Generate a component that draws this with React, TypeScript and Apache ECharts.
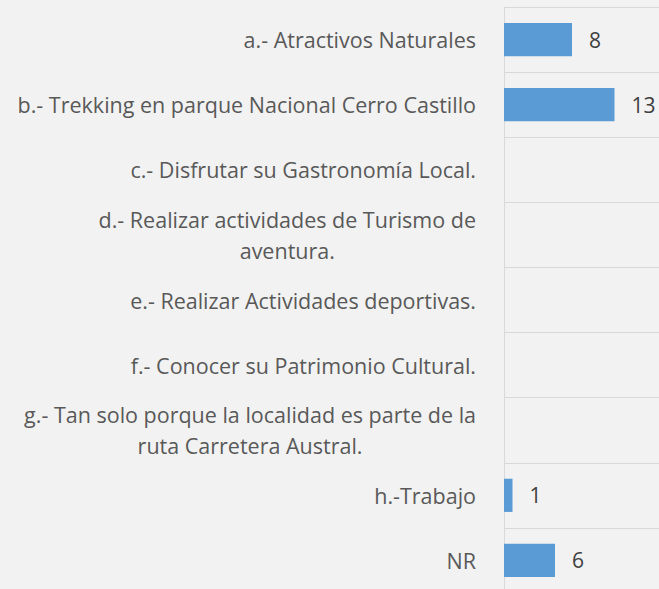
import React, { useEffect, useRef } from "react";
import * as echarts from "echarts";

const categories: string[] = [
  "a.- Atractivos Naturales",
  "b.- Trekking en parque Nacional Cerro Castillo",
  "c.- Disfrutar su Gastronomía Local.",
  "d.- Realizar actividades de Turismo de aventura.",
  "e.- Realizar Actividades deportivas.",
  "f.- Conocer su Patrimonio Cultural.",
  "g.- Tan solo porque la localidad es parte de la ruta Carretera Austral.",
  "h.-Trabajo",
  "NR",
];
const values: number[] = [8, 13, 0, 0, 0, 0, 0, 1, 6];

function wrap(text: string, maxChars: number): string[] {
  const words = text.split(" ");
  const lines: string[] = [];
  let cur = "";
  for (const w of words) {
    const next = cur ? cur + " " + w : w;
    if (next.length > maxChars && cur) {
      lines.push(cur);
      cur = w;
    } else {
      cur = next;
    }
  }
  if (cur) lines.push(cur);
  return lines;
}

export default function App() {
  const ref = useRef<HTMLDivElement>(null);
  useEffect(() => {
    if (!ref.current) return;
    const chart = echarts.init(ref.current, null, { renderer: "svg" });
    const font = "'Open Sans', sans-serif";
    chart.setOption({
      animation: false,
      backgroundColor: "#f2f2f2",
      grid: { left: 504, top: 7, width: 170, height: 586, containLabel: false },
      xAxis: {
        type: "value",
        min: 0,
        max: 20,
        show: false,
        splitLine: { show: false },
      },
      yAxis: {
        type: "category",
        data: categories,
        inverse: true,
        axisLine: { show: true, lineStyle: { color: "#d9d9d9", width: 1 } },
        axisTick: { show: false },
        splitLine: { show: true, lineStyle: { color: "#d9d9d9", width: 1 } },
        axisLabel: {
          margin: 28,
          color: "#595959",
          fontSize: 21.5,
          fontFamily: font,
          lineHeight: 31,
          formatter: (v: string) =>
            wrap(v, 47)
              .map((l) => "{c|" + l + "}")
              .join("\n"),
          rich: {
            c: {
              align: "center",
              color: "#595959",
              fontSize: 21.5,
              fontFamily: font,
              lineHeight: 31,
            },
          },
        },
      },
      series: [
        {
          type: "bar",
          data: values,
          barCategoryGap: "49%",
          itemStyle: { color: "#5b9bd5" },
          label: {
            show: true,
            position: "right",
            distance: 17,
            color: "#404040",
            fontSize: 21,
            fontFamily: font,
            formatter: (p: any) => (p.value ? String(p.value) : ""),
          },
        },
      ],
    });
    return () => chart.dispose();
  }, []);
  return (
    <div
      ref={ref}
      style={{ position: "fixed", left: 0, top: 0, width: 680, height: 600 }}
    />
  );
}
